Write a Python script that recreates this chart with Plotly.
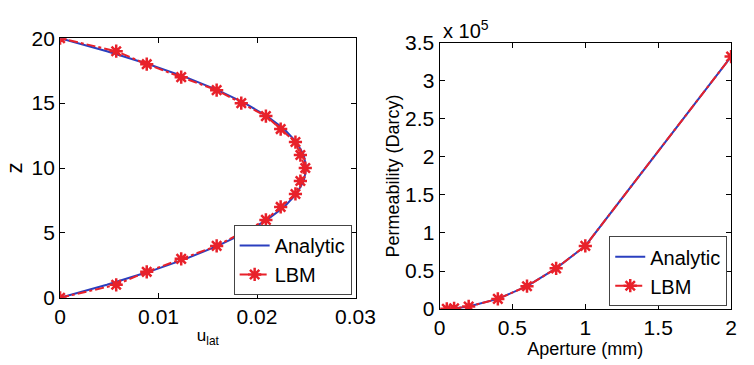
import plotly.graph_objects as go

# Left panel: velocity profile
z_vals = list(range(0, 21))
u_lbm = [0.0, 0.0057, 0.0088, 0.0123, 0.0159, 0.0184, 0.0209, 0.0224, 0.0239, 0.0244, 0.0249,
         0.0244, 0.0239, 0.0224, 0.0209, 0.0184, 0.0159, 0.0123, 0.0088, 0.0057, 0.0]
u_analytic = [0.0, 0.00475, 0.009, 0.01275, 0.016, 0.01875, 0.021, 0.02275, 0.024, 0.02475, 0.025,
              0.02475, 0.024, 0.02275, 0.021, 0.01875, 0.016, 0.01275, 0.009, 0.00475, 0.0]

# Right panel: permeability vs aperture
aperture = [0.05, 0.1, 0.2, 0.4, 0.6, 0.8, 1.0, 2.0]
perm_analytic = [211, 844, 3377, 13300, 30000, 53500, 83000, 332000]
perm_lbm = [211, 844, 3377, 13300, 30000, 53500, 83000, 332000]

left_xticks = [0, 0.01, 0.02, 0.03]
left_xticktext = ["0", "0.01", "0.02", "0.03"]
left_yticks = [0, 5, 10, 15, 20]
right_xticks = [0, 0.5, 1, 1.5, 2]
right_xticktext = ["0", "0.5", "1", "1.5", "2"]
right_yticks = [0, 50000, 100000, 150000, 200000, 250000, 300000, 350000]
right_yticktext = ["0", "0.5", "1", "1.5", "2", "2.5", "3", "3.5"]

BLUE = "#2a3fbf"
RED = "#e8212a"
FONT = "Liberation Sans, Arial, sans-serif"

fig = go.Figure()

fig.add_trace(go.Scatter(x=u_analytic, y=z_vals, mode="lines", name="Analytic",
                         line=dict(color=BLUE, width=2), xaxis="x", yaxis="y", legend="legend"))
fig.add_trace(go.Scatter(x=u_lbm, y=z_vals, mode="lines+markers", name="LBM",
                         line=dict(color=RED, width=2, dash="dashdot"),
                         marker=dict(symbol="asterisk-open", size=11, color=RED, line=dict(color=RED, width=2.5)),
                         xaxis="x", yaxis="y", legend="legend"))

fig.add_trace(go.Scatter(x=aperture, y=perm_analytic, mode="lines", name="Analytic",
                         line=dict(color=BLUE, width=2), xaxis="x2", yaxis="y2", legend="legend2"))
fig.add_trace(go.Scatter(x=aperture, y=perm_lbm, mode="lines+markers", name="LBM",
                         line=dict(color=RED, width=2, dash="dashdot"),
                         marker=dict(symbol="asterisk-open", size=11, color=RED, line=dict(color=RED, width=2.5)),
                         xaxis="x2", yaxis="y2", legend="legend2"))

W, H = 754, 365
def px(x): return x / W
def py(y): return 1 - y / H

axis_common = dict(showgrid=False, zeroline=False, showline=True, linecolor="black", linewidth=1,
                   mirror="ticks", ticks="inside", ticklen=5, tickcolor="black",
                   tickfont=dict(family=FONT, size=21, color="black"))

fig.update_layout(
    width=W, height=H, margin=dict(l=0, r=0, t=0, b=0),
    paper_bgcolor="white", plot_bgcolor="white",
    font=dict(family=FONT, color="black"),
    xaxis=dict(domain=[px(56), px(362)], range=[0, 0.03], tickvals=left_xticks, ticktext=left_xticktext,
               anchor="y", title=dict(text="u<sub>lat</sub>", font=dict(size=17), standoff=2), **axis_common),
    yaxis=dict(domain=[py(305), py(28)], range=[0, 20], tickvals=left_yticks, anchor="x",
               title=dict(text="z", font=dict(size=22), standoff=2), **axis_common),
    xaxis2=dict(domain=[px(449), px(751)], range=[0, 2], tickvals=right_xticks, ticktext=right_xticktext,
                anchor="y2", title=dict(text="Aperture (mm)", font=dict(size=18), standoff=0), **axis_common),
    yaxis2=dict(domain=[py(317), py(33)], range=[0, 350000], tickvals=right_yticks, ticktext=right_yticktext,
                anchor="x2", title=dict(text="Permeability (Darcy)", font=dict(size=18), standoff=0), **axis_common),
    legend=dict(x=px(358), xanchor="right", y=py(302), yanchor="bottom",
                bgcolor="white", bordercolor="#444", borderwidth=1,
                font=dict(family=FONT, size=20, color="black"), tracegroupgap=0, itemwidth=30),
    legend2=dict(x=px(747), xanchor="right", y=py(314), yanchor="bottom",
                 bgcolor="white", bordercolor="#444", borderwidth=1,
                 font=dict(family=FONT, size=20, color="black"), tracegroupgap=0, itemwidth=30),
    showlegend=True,
)

fig.add_annotation(text="x 10<sup>5</sup>", xref="paper", yref="paper", x=px(451), y=py(34),
                   xanchor="left", yanchor="bottom", showarrow=False,
                   font=dict(family=FONT, size=20, color="black"))

fig.write_html("out.html")
